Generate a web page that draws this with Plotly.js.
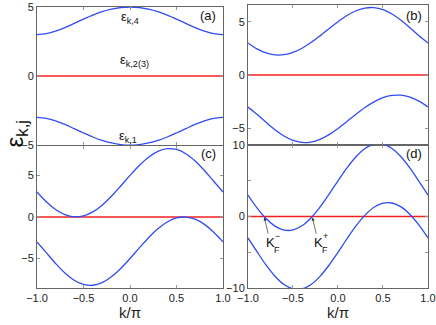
<!DOCTYPE html>
<html>
<head>
<meta charset="utf-8">
<script src="https://cdn.plot.ly/plotly-3.0.1.min.js"></script>
<style>
  html, body { margin: 0; padding: 0; background: #fff; }
  #chart { width: 436px; height: 325px; }
</style>
</head>
<body>
<div id="chart"></div>
<script>
// k/pi sample points
const kVals = [-1.0, -0.9, -0.8, -0.7, -0.6, -0.5, -0.4, -0.3, -0.2, -0.1, 0.0,
               0.1, 0.2, 0.3, 0.4, 0.5, 0.6, 0.7, 0.8, 0.9, 1.0];
const kFlat = [-1.0, 1.0];
const flatBand = [0, 0];

// panel (a)
const aUpper = [3.0, 3.064, 3.245, 3.507, 3.812, 4.123, 4.413, 4.659, 4.845, 4.961, 5.0,
                4.961, 4.845, 4.659, 4.413, 4.123, 3.812, 3.507, 3.245, 3.064, 3.0];
const aLower = [-3.0, -3.064, -3.245, -3.507, -3.812, -4.123, -4.413, -4.659, -4.845, -4.961, -5.0,
                -4.961, -4.845, -4.659, -4.413, -4.123, -3.812, -3.507, -3.245, -3.064, -3.0];

// panel (b)
const bUpper = [3.0, 2.446, 2.069, 1.889, 1.910, 2.123, 2.511, 3.041, 3.669, 4.343, 5.0,
                5.579, 6.021, 6.277, 6.315, 6.123, 5.714, 5.125, 4.421, 3.682, 3.0];
const bLower = [-3.0, -3.682, -4.421, -5.125, -5.714, -6.123, -6.315, -6.277, -6.021, -5.579, -5.0,
                -4.343, -3.669, -3.041, -2.511, -2.123, -1.910, -1.889, -2.069, -2.446, -3.0];

// panel (c)
const cUpper = [3.0, 1.828, 0.894, 0.271, 0.008, 0.123, 0.609, 1.423, 2.494, 3.725, 5.0,
                6.197, 7.196, 7.895, 8.217, 8.123, 7.616, 6.743, 5.596, 4.300, 3.0];
const cLower = [-3.0, -4.300, -5.596, -6.743, -7.616, -8.123, -8.217, -7.895, -7.196, -6.197, -5.0,
                -3.725, -2.494, -1.423, -0.609, -0.123, -0.008, -0.271, -0.894, -1.828, -3.0];

// panel (d)
const dUpper = [3.0, 1.210, -0.282, -1.347, -1.894, -1.877, -1.293, -0.195, 1.318, 3.107, 5.0,
                6.815, 8.372, 9.513, 10.119, 10.123, 9.518, 8.361, 6.772, 4.918, 3.0];
const dLower = [-3.0, -4.918, -6.772, -8.361, -9.518, -10.123, -10.119, -9.513, -8.372, -6.815, -5.0,
                -3.107, -1.318, 0.195, 1.293, 1.877, 1.894, 1.347, 0.282, -1.210, -3.0];

// Fermi points in (d)
const kFminus = -0.82;
const kFplus = -0.286;

const blue = '#2f4cf2';
const red = '#f02020';
const fam = 'Liberation Sans, Arial, sans-serif';

function band(y, xa, ya) {
    return {
        x: kVals, y: y, xaxis: xa, yaxis: ya,
        type: 'scatter', mode: 'lines',
        line: { color: blue, width: 1.3, shape: 'spline', smoothing: 1 },
        hoverinfo: 'skip', showlegend: false
    };
}

function flat(xa, ya) {
    return {
        x: kFlat, y: flatBand, xaxis: xa, yaxis: ya,
        type: 'scatter', mode: 'lines',
        line: { color: red, width: 1.6 },
        hoverinfo: 'skip', showlegend: false
    };
}

const traces = [
    flat('x', 'y'), band(aUpper, 'x', 'y'), band(aLower, 'x', 'y'),
    flat('x2', 'y2'), band(bUpper, 'x2', 'y2'), band(bLower, 'x2', 'y2'),
    flat('x3', 'y3'), band(cUpper, 'x3', 'y3'), band(cLower, 'x3', 'y3'),
    flat('x4', 'y4'), band(dUpper, 'x4', 'y4'), band(dLower, 'x4', 'y4')
];

const tickFont = { family: fam, size: 11, color: '#222' };

function xAxis(domain, anchor, labels) {
    const ax = {
        domain: domain, anchor: anchor, range: [-1, 1],
        tickvals: [-1, -0.5, 0, 0.5, 1], tickformat: '.1f',
        showticklabels: labels, ticks: 'inside', ticklen: 3, tickcolor: '#999',
        showline: true, linecolor: '#666', linewidth: 1, mirror: 'ticks',
        showgrid: false, zeroline: false, tickfont: tickFont
    };
    if (labels) {
        ax.title = { text: 'k/π', font: { family: fam, size: 15, color: '#222' }, standoff: 2 };
    }
    return ax;
}

function yAxis(domain, anchor, range, tickvals, ticktext) {
    return {
        domain: domain, anchor: anchor, range: range,
        tickvals: tickvals, ticktext: ticktext,
        ticks: 'inside', ticklen: 3, tickcolor: '#999',
        showline: true, linecolor: '#666', linewidth: 1, mirror: 'ticks',
        showgrid: false, zeroline: false, tickfont: tickFont
    };
}

const textFont = { family: fam, size: 13, color: '#111' };
const panelFont = { family: fam, size: 13, color: '#111' };
const smallFont = { family: fam, size: 9, color: '#111' };

const annotations = [
    // band labels in (a)
    { xref: 'x', yref: 'y', x: 0.0, y: 4.25, text: 'ε<sub>k,4</sub>', showarrow: false, font: textFont },
    { xref: 'x', yref: 'y', x: 0.05, y: 1.15, text: 'ε<sub>k,2(3)</sub>', showarrow: false, font: textFont },
    { xref: 'x', yref: 'y', x: -0.02, y: -4.35, text: 'ε<sub>k,1</sub>', showarrow: false, font: textFont },
    // panel tags
    { xref: 'x', yref: 'y', x: 0.95, y: 4.4, text: '(a)', showarrow: false, xanchor: 'right', font: panelFont },
    { xref: 'x2', yref: 'y2', x: 0.95, y: 5.6, text: '(b)', showarrow: false, xanchor: 'right', font: panelFont },
    { xref: 'x3', yref: 'y3', x: 0.95, y: 7.6, text: '(c)', showarrow: false, xanchor: 'right', font: panelFont },
    { xref: 'x4', yref: 'y4', x: 0.95, y: 8.8, text: '(d)', showarrow: false, xanchor: 'right', font: panelFont },
    // Fermi points
    { xref: 'x4', yref: 'y4', x: kFminus, y: 0, text: 'K', showarrow: true, ax: 6, ay: 26,
      arrowhead: 2, arrowsize: 0.9, arrowwidth: 0.7, arrowcolor: '#333', standoff: 1, font: panelFont },
    { xref: 'x4', yref: 'y4', x: kFminus, y: 0, text: '−', showarrow: false, xshift: 13, yshift: -19, font: smallFont },
    { xref: 'x4', yref: 'y4', x: kFminus, y: 0, text: 'F', showarrow: false, xshift: 13, yshift: -33, font: smallFont },
    { xref: 'x4', yref: 'y4', x: kFplus, y: 0, text: 'K', showarrow: true, ax: 6, ay: 26,
      arrowhead: 2, arrowsize: 0.9, arrowwidth: 0.7, arrowcolor: '#333', standoff: 1, font: panelFont },
    { xref: 'x4', yref: 'y4', x: kFplus, y: 0, text: '+', showarrow: false, xshift: 13, yshift: -19, font: smallFont },
    { xref: 'x4', yref: 'y4', x: kFplus, y: 0, text: 'F', showarrow: false, xshift: 13, yshift: -33, font: smallFont },
    // shared y label
    { xref: 'paper', yref: 'paper', x: -0.052, y: 0.545, text: 'ε<sub>k,j</sub>', textangle: -90,
      showarrow: false, xanchor: 'center', yanchor: 'middle',
      font: { family: fam, size: 24, color: '#111' } }
];

const layout = {
    width: 436, height: 325,
    margin: { l: 37, r: 8, t: 5, b: 37 },
    paper_bgcolor: '#fff', plot_bgcolor: '#fff',
    showlegend: false,
    xaxis: xAxis([0, 0.4757], 'y', false),
    yaxis: yAxis([0.505, 0.993], 'x', [-5, 5], [-5, 0, 5], ['−5', '0', '5']),
    xaxis2: xAxis([0.5396, 1], 'y2', false),
    yaxis2: yAxis([0.505, 1], 'x2', [-6.56, 6.56], [-5, 0, 5], ['−5', '0', '5']),
    xaxis3: xAxis([0, 0.4757], 'y3', true),
    yaxis3: yAxis([0, 0.502], 'x3', [-8.55, 8.55], [-5, 0, 5], ['−5', '0', '5']),
    xaxis4: xAxis([0.5396, 1], 'y4', true),
    yaxis4: yAxis([0, 0.505], 'x4', [-10, 10], [-10, -5, 0, 5, 10], ['−10', '', '0', '', '10']),
    annotations: annotations
};

Plotly.newPlot('chart', traces, layout, { displayModeBar: false, staticPlot: true });
</script>
</body>
</html>
